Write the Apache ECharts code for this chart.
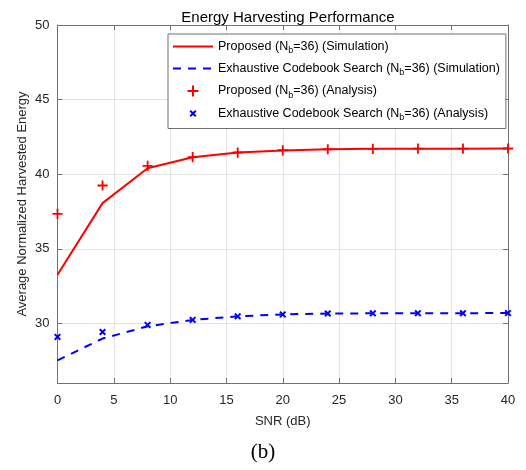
<!DOCTYPE html>
<html><head><meta charset="utf-8">
<script src="https://cdn.jsdelivr.net/npm/echarts@6/dist/echarts.min.js"></script>
<style>html,body{margin:0;padding:0;background:#fff}#c{width:526px;height:470px}</style>
</head><body><div id="c"></div>
<script>
const snr = [0, 4, 8, 12, 16, 20, 24, 28, 32, 36, 40];
const propSim = [33.26, 38.06, 40.4, 41.14, 41.45, 41.58, 41.67, 41.7, 41.71, 41.71, 41.72];
const propAna = [37.34, 39.24, 40.56, 41.14, 41.45, 41.6, 41.67, 41.7, 41.71, 41.71, 41.72];
const exhSim = [27.52, 28.98, 29.8, 30.23, 30.47, 30.6, 30.66, 30.67, 30.68, 30.68, 30.69];
const exhAna = [29.09, 29.42, 29.89, 30.23, 30.47, 30.6, 30.66, 30.67, 30.68, 30.68, 30.69];
const xTicks = [0, 5, 10, 15, 20, 25, 30, 35, 40];
const yTicks = [30, 35, 40, 45, 50];
const legendNames = [
  ['Proposed (N', 'b', '=36) (Simulation)'],
  ['Exhaustive Codebook Search (N', 'b', '=36) (Simulation)'],
  ['Proposed (N', 'b', '=36) (Analysis)'],
  ['Exhaustive Codebook Search (N', 'b', '=36) (Analysis)']
];
const seriesNames = ['ps', 'es', 'pa', 'ea'];

const pair = a => snr.map((x, i) => [x, a[i]]);
// leading moveTo points only widen the symbol's box (nothing is drawn there)
const plus = 'path://M-1.5,-1.5 M12.5,12.5 M4.5,0 H6.5 V4.5 H11 V6.5 H6.5 V11 H4.5 V6.5 H0 V4.5 H4.5 Z';
const cross = 'path://M-5,-5 M15,15 M0,2 L2,0 L5,3 L8,0 L10,2 L7,5 L10,8 L8,10 L5,7 L2,10 L0,8 L3,5 Z';
const font = 'Liberation Sans, Arial, Helvetica, sans-serif';
const axisCol = '#707070';
const chart = echarts.init(document.getElementById('c'));
const baseAxis = {
  axisLine: {show: true, onZero: false, lineStyle: {color: axisCol, width: 1}},
  axisTick: {show: true, inside: true, length: 5, lineStyle: {color: axisCol}},
  splitLine: {show: false},
  axisLabel: {show: false}
};
chart.setOption({
  animation: false,
  backgroundColor: '#fff',
  title: {text: 'Energy Harvesting Performance', left: 283, textAlign: 'center', top: 5,
    textStyle: {fontFamily: font, fontSize: 15, fontWeight: 'normal', color: '#000'}},
  grid: {left: 57.5, right: 18, top: 25, bottom: 87},
  legend: {
    orient: 'vertical', left: 168, top: 34, width: 337,
    padding: [6, 6, 6, 4], itemGap: 6.5, itemWidth: 40, itemHeight: 14,
    backgroundColor: '#fff', borderColor: axisCol, borderWidth: 1, borderRadius: 0,
    data: [
      {name: 'ps', itemStyle: {opacity: 0}},
      {name: 'es', itemStyle: {opacity: 0}},
      {name: 'pa'},
      {name: 'ea'}
    ],
    formatter: n => {
      const p = legendNames[seriesNames.indexOf(n)];
      return '{a|' + p[0] + '}{s|' + p[1] + '}{a|' + p[2] + '}';
    },
    textStyle: {
      fontFamily: font, fontSize: 12.5, color: '#000', padding: [0, 0, 0, 0],
      rich: {a: {fontFamily: font, fontSize: 12.5, color: '#000'},
             s: {fontFamily: font, fontSize: 9, color: '#000', padding: [9, 0, 0, 0]}}
    }
  },
  xAxis: [Object.assign({}, baseAxis, {
    type: 'value', min: 0, max: 40, interval: 5, position: 'bottom',
    name: 'SNR (dB)', nameLocation: 'middle', nameGap: 32, nameMoveOverlap: false,
    nameTextStyle: {fontFamily: font, fontSize: 13, color: '#262626'},
    axisLabel: {show: true, margin: 11, fontFamily: font, fontSize: 13, color: '#262626',
      formatter: v => xTicks.includes(v) ? String(v) : ''},
    splitLine: {show: true, lineStyle: {color: '#e5e5e5', width: 1}}
  }), Object.assign({}, baseAxis, {type: 'value', min: 0, max: 40, interval: 5, position: 'top'})],
  yAxis: [Object.assign({}, baseAxis, {
    type: 'value', min: 26, max: 50, position: 'left',
    customValues: yTicks,
    axisTick: {show: true, inside: true, length: 5, lineStyle: {color: axisCol}, customValues: yTicks},
    name: 'Average Normalized Harvested Energy', nameLocation: 'middle', nameGap: 29, nameMoveOverlap: false,
    nameTextStyle: {fontFamily: font, fontSize: 13, color: '#262626'},
    axisLabel: {show: true, margin: 8, fontFamily: font, fontSize: 13, color: '#262626', customValues: yTicks},
    splitLine: {show: true, lineStyle: {color: '#e5e5e5', width: 1}}
  }), Object.assign({}, baseAxis, {type: 'value', min: 26, max: 50, position: 'right',
    axisTick: {show: true, inside: true, length: 5, lineStyle: {color: axisCol}, customValues: yTicks}})],
  series: [
    {name: 'ps', type: 'line', data: pair(propSim), symbol: 'none', z: 3,
      lineStyle: {color: '#ff0000', width: 2}, itemStyle: {color: '#ff0000'}},
    {name: 'es', type: 'line', data: pair(exhSim), symbol: 'none', z: 3,
      lineStyle: {color: '#0000ff', width: 2, type: [8, 7]}, itemStyle: {color: '#0000ff'}},
    {name: 'pa', type: 'scatter', data: pair(propAna), symbol: plus, symbolSize: 13, z: 4,
      itemStyle: {color: '#ff0000', opacity: 1}},
    {name: 'ea', type: 'scatter', data: pair(exhAna), symbol: cross, symbolSize: 14, z: 4,
      itemStyle: {color: '#0000ff', opacity: 1}}
  ],
  graphic: [{type: 'text', left: 'center', top: 442,
    style: {text: '(b)', x: 0, fontFamily: 'Liberation Serif, Times New Roman, serif', fontSize: 21, fill: '#000'}}]
});
</script></body></html>
